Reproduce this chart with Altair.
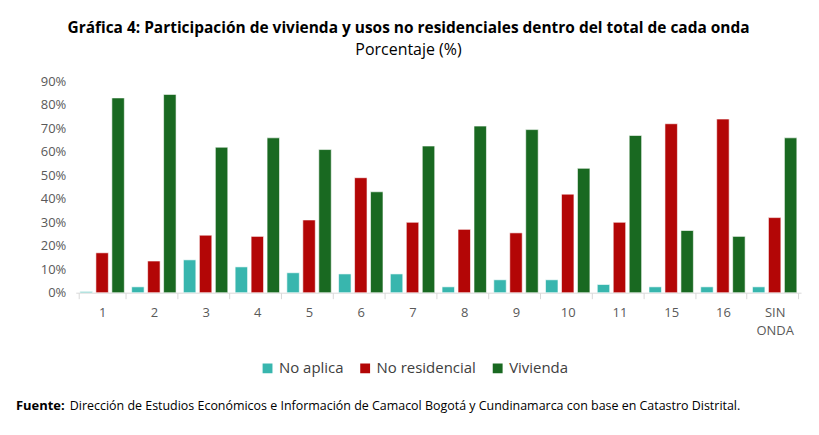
import altair as alt
import pandas as pd

ondas = ["1", "2", "3", "4", "5", "6", "7", "8", "9", "10", "11", "15", "16", "SIN ONDA"]
no_aplica = [0.5, 2.5, 14, 11, 8.5, 8, 8, 2.5, 5.5, 5.5, 3.5, 2.5, 2.5, 2.5]
no_residencial = [17, 13.5, 24.5, 24, 31, 49, 30, 27, 25.5, 42, 30, 72, 74, 32]
vivienda = [83, 84.5, 62, 66, 61, 43, 62.5, 71, 69.5, 53, 67, 26.5, 24, 66]

series = ["No aplica", "No residencial", "Vivienda"]
colores = ["#38b6ae", "#b30606", "#196921"]

rows = []
for i, o in enumerate(ondas):
    for s, vals in zip(series, [no_aplica, no_residencial, vivienda]):
        rows.append({"onda": o, "serie": s, "valor": vals[i] / 100})
df = pd.DataFrame(rows)

font = "Open Sans"

bars = alt.Chart(df).mark_bar(stroke="white", strokeWidth=1, strokeOpacity=0.6).encode(
    x=alt.X("onda:N", sort=ondas, title=None,
            scale=alt.Scale(paddingInner=0.08, paddingOuter=0.05),
            axis=alt.Axis(labelExpr="split(datum.label, ' ')", labelAngle=0,
                          labelColor="#595959", labelFontSize=13, labelFont=font,
                          domainColor="#d9d9d9", tickColor="#d9d9d9", tickSize=6,
                          tickBand="extent", labelPadding=8, labelLineHeight=18)),
    xOffset=alt.XOffset("serie:N", sort=series, scale=alt.Scale(paddingInner=0.22, paddingOuter=0.1)),
    y=alt.Y("valor:Q", title=None,
            scale=alt.Scale(domain=[0, 0.9]),
            axis=alt.Axis(format=".0%", values=[i / 10 for i in range(10)], grid=False,
                          domain=False, ticks=False, labelColor="#595959",
                          labelFontSize=13, labelFont=font, labelPadding=10)),
    color=alt.Color("serie:N", sort=series,
                    scale=alt.Scale(domain=series, range=colores),
                    legend=alt.Legend(orient="none", legendX=185, legendY=280, direction="horizontal",
                                      title=None, symbolType="square",
                                      labelFontSize=15, labelColor="#404040", labelFont=font,
                                      symbolSize=130, columnPadding=12)),
)

fuente_b = alt.Chart(pd.DataFrame({"t": ["Fuente:"]})).mark_text(
    align="left", fontSize=13, font=font, fontWeight="bold", color="#000000"
).encode(x=alt.value(-60), y=alt.value(326), text="t:N")

fuente = alt.Chart(pd.DataFrame({"t": ["Dirección de Estudios Económicos e Información de Camacol Bogotá y Cundinamarca con base en Catastro Distrital."]})).mark_text(
    align="left", fontSize=12.5, font=font, color="#000000"
).encode(x=alt.value(-6), y=alt.value(326), text="t:N")

chart = alt.layer(bars, fuente_b, fuente).properties(
    width=728, height=212,
    title=alt.TitleParams(
        "Gráfica 4: Participación de vivienda y usos no residenciales dentro del total de cada onda",
        subtitle="Porcentaje (%)", fontSize=15.5, fontWeight="bold", font=font, color="#000000",
        subtitleFontSize=16, subtitleFont=font, subtitleColor="#000000", anchor="middle",
        subtitlePadding=5, offset=18, frame="bounds"),
    padding={"left": 8, "top": 12, "right": 10, "bottom": 5},
).configure_view(stroke=None)

chart.save("out.html", embed_options={"renderer": "svg", "actions": False})
